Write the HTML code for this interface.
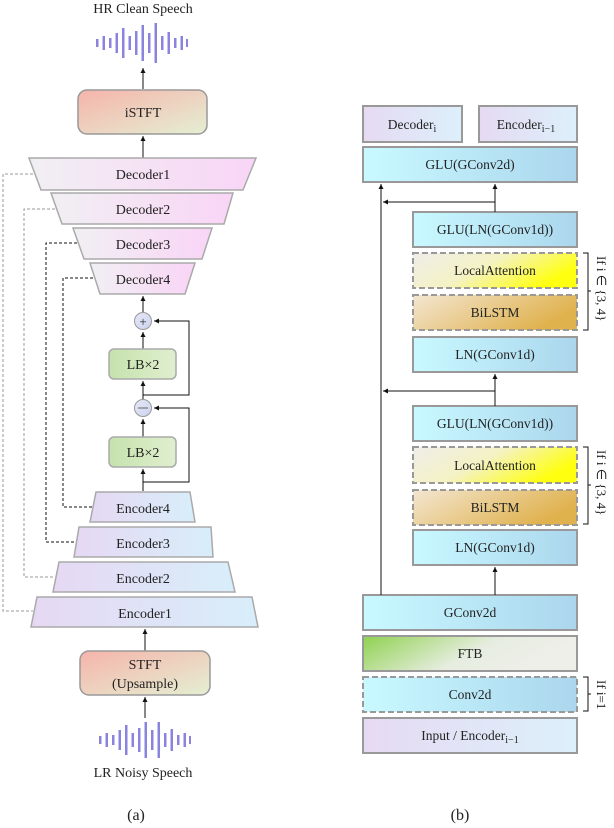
<!DOCTYPE html>
<html><head><meta charset="utf-8"><style>
html,body{margin:0;padding:0;background:#fff;}
svg{display:block;}
text{font-family:"Liberation Serif",serif;fill:#222;}
</style></head><body>
<svg width="614" height="828" viewBox="0 0 614 828" xmlns="http://www.w3.org/2000/svg">
<defs>
<marker id="ar" markerWidth="6" markerHeight="6" refX="5" refY="3" orient="auto"><path d="M0,0.5 L5,3 L0,5.5 Z" fill="#111"/></marker>
<linearGradient id="gRed" x1="0" y1="0" x2="1" y2="1"><stop offset="0" stop-color="#f6b4ab"/><stop offset="1" stop-color="#e4efd2"/></linearGradient>
<linearGradient id="gDec" x1="0" y1="0" x2="1" y2="0"><stop offset="0" stop-color="#f1eff3"/><stop offset="1" stop-color="#f9d5f6"/></linearGradient>
<linearGradient id="gEnc" x1="0" y1="0" x2="1" y2="0"><stop offset="0" stop-color="#e6d8f3"/><stop offset="1" stop-color="#d8eefa"/></linearGradient>
<linearGradient id="gLB" x1="0" y1="0" x2="1" y2="0"><stop offset="0" stop-color="#c6e2ad"/><stop offset="1" stop-color="#e0efcf"/></linearGradient>
<linearGradient id="gCy" x1="0" y1="0" x2="1" y2="0"><stop offset="0" stop-color="#c9f9ff"/><stop offset="1" stop-color="#abd6ed"/></linearGradient>
<linearGradient id="gLav" x1="0" y1="0" x2="1" y2="0"><stop offset="0" stop-color="#e6daf2"/><stop offset="1" stop-color="#dcf0fb"/></linearGradient>
<linearGradient id="gLA" x1="0" y1="0" x2="1" y2="0.4"><stop offset="0" stop-color="#efede9"/><stop offset="0.5" stop-color="#f4f2c4"/><stop offset="1" stop-color="#ffff10"/></linearGradient>
<linearGradient id="gBi" x1="0" y1="0" x2="1" y2="0.4"><stop offset="0" stop-color="#f3e6d2"/><stop offset="1" stop-color="#e0b24e"/></linearGradient>
<linearGradient id="gFTB" x1="0" y1="0" x2="1" y2="0.3"><stop offset="0" stop-color="#8fd14f"/><stop offset="0.6" stop-color="#e6ede0"/><stop offset="1" stop-color="#efefea"/></linearGradient>
<linearGradient id="gCirc" x1="0" y1="0" x2="1" y2="1"><stop offset="0" stop-color="#e8e8f6"/><stop offset="1" stop-color="#c9d3ef"/></linearGradient>
</defs>

<!-- (a) -->
<text x="143" y="13" font-size="14" text-anchor="middle">HR Clean Speech</text>
<g fill="#8a84df">
<rect x="96" y="39" width="2.5" height="8"/><rect x="102.5" y="36" width="2.5" height="14"/><rect x="109" y="38" width="2.5" height="10"/><rect x="115.5" y="33" width="2.5" height="20"/><rect x="122" y="28" width="2.5" height="30"/><rect x="128.5" y="36" width="2.5" height="14"/><rect x="135" y="31" width="2.5" height="24"/><rect x="141.5" y="25" width="2.5" height="36"/><rect x="148" y="33" width="2.5" height="20"/><rect x="154.5" y="23" width="2.5" height="40"/><rect x="161" y="36" width="2.5" height="14"/><rect x="167.5" y="32" width="2.5" height="22"/><rect x="174" y="38" width="2.5" height="10"/><rect x="180.5" y="36" width="2.5" height="14"/><rect x="186" y="39" width="2" height="8"/>
</g>
<line x1="143" y1="89" x2="143" y2="68" stroke="#111" marker-end="url(#ar)"/>
<rect x="78" y="90" width="129" height="44" rx="9" fill="url(#gRed)" stroke="#999" stroke-width="1.5"/>
<text x="143" y="117" font-size="14" text-anchor="middle">iSTFT</text>
<line x1="143" y1="158" x2="143" y2="136" stroke="#111" marker-end="url(#ar)"/>

<g stroke="#aaa" stroke-width="1.5">
<polygon points="29,158 256,158 243,190 41,190" fill="url(#gDec)"/>
<polygon points="51,193 233,193 224,224 62,224" fill="url(#gDec)"/>
<polygon points="73,228 212,228 202,259 84,259" fill="url(#gDec)"/>
<polygon points="90,263 195,263 185,294 100,294" fill="url(#gDec)"/>
<polygon points="96,492 190,492 195,522 90,522" fill="url(#gEnc)"/>
<polygon points="79,527 211,527 213,557 74,557" fill="url(#gEnc)"/>
<polygon points="59,562 228,562 235,592 53,592" fill="url(#gEnc)"/>
<polygon points="37,597 252,597 258,627 31,627" fill="url(#gEnc)"/>
</g>
<g font-size="14" text-anchor="middle">
<text x="143" y="179">Decoder1</text>
<text x="143" y="214">Decoder2</text>
<text x="143" y="249">Decoder3</text>
<text x="143" y="284">Decoder4</text>
<text x="143" y="513">Encoder4</text>
<text x="143" y="548">Encoder3</text>
<text x="143" y="583">Encoder2</text>
<text x="145" y="618">Encoder1</text>
</g>
<!-- skip lines -->
<g fill="none" stroke-width="1" stroke-dasharray="3,2">
<polyline points="33,174 3,174 3,611 33,611" stroke="#999"/>
<polyline points="55,209 24,209 24,577 55,577" stroke="#999"/>
<polyline points="77,243 46,243 46,542 76,542" stroke="#111"/>
<polyline points="93,278 63,278 63,507 92,507" stroke="#111"/>
</g>
<!-- residual chain -->
<g stroke="#111" fill="none" stroke-width="1">
<line x1="143" y1="312" x2="143" y2="296" marker-end="url(#ar)"/>
<line x1="143" y1="349" x2="143" y2="332" marker-end="url(#ar)"/>
<polyline points="143,395 189,395 189,321 154,321" marker-end="url(#ar)"/>
<line x1="143" y1="399" x2="143" y2="381" marker-end="url(#ar)"/>
<line x1="143" y1="437" x2="143" y2="419" marker-end="url(#ar)"/>
<polyline points="143,482 189,482 189,408 154,408" marker-end="url(#ar)"/>
<line x1="143" y1="491" x2="143" y2="469" marker-end="url(#ar)"/>
</g>
<circle cx="143" cy="321" r="8.5" fill="url(#gCirc)" stroke="#999"/>
<text x="143" y="326" font-size="13" text-anchor="middle" fill="#666">+</text>
<circle cx="143" cy="408" r="8.5" fill="url(#gCirc)" stroke="#999"/>
<line x1="138" y1="408" x2="148" y2="408" stroke="#666"/>
<rect x="109" y="349" width="67" height="30" rx="5" fill="url(#gLB)" stroke="#aaa" stroke-width="1.5"/>
<text x="143" y="369" font-size="14" text-anchor="middle">LB×2</text>
<rect x="109" y="437" width="67" height="30" rx="5" fill="url(#gLB)" stroke="#aaa" stroke-width="1.5"/>
<text x="143" y="457" font-size="14" text-anchor="middle">LB×2</text>

<line x1="145" y1="651" x2="145" y2="629" stroke="#111" marker-end="url(#ar)"/>
<rect x="80" y="651" width="130" height="44" rx="9" fill="url(#gRed)" stroke="#999" stroke-width="1.5"/>
<text x="145" y="669" font-size="14" text-anchor="middle">STFT</text>
<text x="145" y="688" font-size="14" text-anchor="middle">(Upsample)</text>
<line x1="145" y1="718" x2="145" y2="697" stroke="#111" marker-end="url(#ar)"/>
<g fill="#8a84df">
<rect x="99" y="736" width="2.5" height="8"/><rect x="105.5" y="733" width="2.5" height="14"/><rect x="112" y="735" width="2.5" height="10"/><rect x="118.5" y="730" width="2.5" height="20"/><rect x="125" y="725" width="2.5" height="30"/><rect x="131.5" y="733" width="2.5" height="14"/><rect x="138" y="728" width="2.5" height="24"/><rect x="144.5" y="722" width="2.5" height="36"/><rect x="151" y="730" width="2.5" height="20"/><rect x="157.5" y="722" width="2.5" height="36"/><rect x="164" y="733" width="2.5" height="14"/><rect x="170.5" y="729" width="2.5" height="22"/><rect x="177" y="735" width="2.5" height="10"/><rect x="183.5" y="733" width="2.5" height="14"/><rect x="189" y="736" width="2" height="8"/>
</g>
<text x="143" y="777" font-size="14" text-anchor="middle">LR Noisy Speech</text>
<text x="136" y="820" font-size="16" text-anchor="middle">(a)</text>

<!-- (b) -->
<g stroke="#999" stroke-width="2">
<rect x="363" y="106" width="99" height="36" fill="url(#gLav)"/>
<rect x="479" y="106" width="98" height="36" fill="url(#gLav)"/>
<rect x="363" y="147" width="214" height="35" fill="url(#gCy)"/>
<rect x="413" y="212" width="164" height="35" fill="url(#gCy)"/>
<rect x="413" y="253" width="164" height="35" fill="url(#gLA)" stroke-dasharray="6,3"/>
<rect x="413" y="295" width="164" height="35" fill="url(#gBi)" stroke-dasharray="6,3"/>
<rect x="413" y="337" width="164" height="35" fill="url(#gCy)"/>
<rect x="413" y="406" width="164" height="35" fill="url(#gCy)"/>
<rect x="413" y="447" width="164" height="36" fill="url(#gLA)" stroke-dasharray="6,3"/>
<rect x="413" y="490" width="164" height="35" fill="url(#gBi)" stroke-dasharray="6,3"/>
<rect x="413" y="530" width="164" height="35" fill="url(#gCy)"/>
<rect x="363" y="595" width="214" height="35" fill="url(#gCy)"/>
<rect x="363" y="636" width="214" height="35" fill="url(#gFTB)"/>
<rect x="363" y="677" width="214" height="35" fill="url(#gCy)" stroke-dasharray="6,3"/>
<rect x="363" y="718" width="214" height="35" fill="url(#gLav)"/>
</g>
<g font-size="13.5" text-anchor="middle">
<text x="412" y="129">Decoder<tspan font-size="10" dy="3">i</tspan></text>
<text x="526" y="129">Encoder<tspan font-size="10" dy="3">i−1</tspan></text>
<text x="470" y="169">GLU(GConv2d)</text>
<text x="495" y="234">GLU(LN(GConv1d))</text>
<text x="495" y="275">LocalAttention</text>
<text x="495" y="317">BiLSTM</text>
<text x="495" y="359">LN(GConv1d)</text>
<text x="495" y="428">GLU(LN(GConv1d))</text>
<text x="495" y="470">LocalAttention</text>
<text x="495" y="512">BiLSTM</text>
<text x="495" y="552">LN(GConv1d)</text>
<text x="470" y="617">GConv2d</text>
<text x="470" y="658">FTB</text>
<text x="470" y="699">Conv2d</text>
<text x="470" y="740">Input / Encoder<tspan font-size="10" dy="3">i−1</tspan></text>
</g>
<g stroke="#111" fill="none" stroke-width="1">
<line x1="381" y1="595" x2="381" y2="184" marker-end="url(#ar)"/>
<line x1="495" y1="212" x2="495" y2="184" marker-end="url(#ar)"/>
<line x1="495" y1="202" x2="383" y2="202" marker-end="url(#ar)"/>
<line x1="495" y1="406" x2="495" y2="374" marker-end="url(#ar)"/>
<line x1="495" y1="391" x2="383" y2="391" marker-end="url(#ar)"/>
<line x1="495" y1="595" x2="495" y2="567" marker-end="url(#ar)"/>
<path d="M583,253 H588 V330 H583 M588,291 H591"/>
<path d="M583,447 H588 V524 H583 M588,485 H591"/>
<path d="M583,677 H588 V711 H583 M588,694 H591"/>
</g>
<g font-size="13">
<text transform="translate(597,256) rotate(90)">If i ∈ {3, 4}</text>
<text transform="translate(597,450) rotate(90)">If i ∈ {3, 4}</text>
<text transform="translate(597,680) rotate(90)">If i=1</text>
</g>
<text x="460" y="820" font-size="16" text-anchor="middle">(b)</text>
</svg>
</body></html>
